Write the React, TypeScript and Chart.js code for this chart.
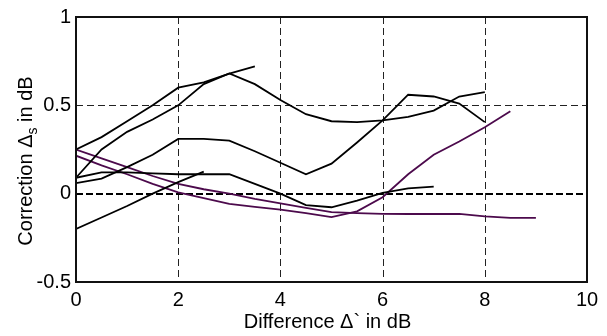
import React, { useEffect, useRef } from "react";
import { Chart, registerables } from "chart.js";

Chart.register(...registerables);

const xA = [0, 0.5, 1, 1.5, 2, 2.5, 3, 3.5];
const yA = [0.25, 0.32, 0.41, 0.5, 0.6, 0.63, 0.68, 0.72];

const xB = [0, 0.5, 1, 1.5, 2, 2.5, 3, 3.5, 4, 4.5, 5, 5.5, 6, 6.5, 7, 7.5, 8];
const yB = [0.09, 0.25, 0.35, 0.42, 0.5, 0.62, 0.68, 0.62, 0.53, 0.45, 0.41, 0.405, 0.415, 0.435, 0.47, 0.55, 0.575];

const xC = [0, 0.5, 1, 1.5, 2, 2.5, 3, 3.5, 4, 4.5, 5, 5.5, 6, 6.5, 7, 7.5, 8];
const yC = [0.06, 0.085, 0.15, 0.22, 0.31, 0.31, 0.3, 0.24, 0.175, 0.11, 0.17, 0.29, 0.415, 0.56, 0.55, 0.51, 0.405];

const xD = [0, 0.5, 1, 1.5, 2, 2.5, 3, 3.5, 4, 4.5, 5, 5.5, 6, 6.5, 7];
const yD = [0.09, 0.12, 0.12, 0.115, 0.11, 0.11, 0.11, 0.055, 0.0, -0.065, -0.077, -0.04, 0.005, 0.03, 0.04];

const xE = [0, 0.5, 1, 1.5, 2, 2.5];
const yE = [-0.2, -0.135, -0.07, 0.0, 0.065, 0.125];

const xP1 = [0, 0.5, 1, 1.5, 2, 2.5, 3, 3.5, 4, 4.5, 5, 5.5, 6, 6.5, 7, 7.5, 8, 8.5, 9];
const yP1 = [0.25, 0.2, 0.15, 0.1, 0.055, 0.025, 0.0, -0.03, -0.055, -0.08, -0.105, -0.11, -0.114, -0.115, -0.115, -0.114, -0.128, -0.137, -0.137];

const xP2 = [0, 0.5, 1, 1.5, 2, 2.5, 3, 3.5, 4, 4.5, 5, 5.5, 6, 6.5, 7, 7.5, 8, 8.5];
const yP2 = [0.215, 0.16, 0.11, 0.055, 0.007, -0.025, -0.058, -0.075, -0.09, -0.11, -0.133, -0.1, -0.02, 0.11, 0.22, 0.295, 0.376, 0.466];

const xTicks = [0, 2, 4, 6, 8, 10];
const yTicks = [-0.5, 0, 0.5, 1];
const xGrid = [2, 4, 6, 8];
const yGrid = [0.5];
const yZero = 0;

const xTitle = "Difference \u0394` in dB";
const yTitleMain = "Correction \u0394";
const yTitleSub = "s";
const yTitleEnd = " in dB";

const BLACK = "#000000";
const FRAME = "#111111";
const PURPLE = "#4c0a4c";
const FONT = "'Liberation Sans', Arial, sans-serif";

const pts = (xs: number[], ys: number[]) => xs.map((x, i) => ({ x, y: ys[i] }));

export default function App() {
  const ref = useRef<HTMLCanvasElement>(null);

  useEffect(() => {
    document.body.style.margin = "0";
    const canvas = ref.current;
    if (!canvas) return;

    const mk = (xs: number[], ys: number[], color: string) => ({
      data: pts(xs, ys),
      borderColor: color,
      backgroundColor: color,
      borderWidth: 1.8,
      pointRadius: 0,
      tension: 0,
      fill: false,
    });

    const gridPlugin = {
      id: "customGrid",
      beforeDatasetsDraw(chart: any) {
        const { ctx, chartArea, scales } = chart;
        const xs = scales.x;
        const ys = scales.y;
        ctx.save();
        ctx.strokeStyle = "#222222";
        ctx.lineWidth = 1;
        ctx.setLineDash([7, 4]);
        xGrid.forEach((v) => {
          const px = Math.round(xs.getPixelForValue(v)) + 0.5;
          ctx.beginPath();
          ctx.moveTo(px, chartArea.top);
          ctx.lineTo(px, chartArea.bottom);
          ctx.stroke();
        });
        yGrid.forEach((v) => {
          const py = Math.round(ys.getPixelForValue(v)) + 0.5;
          ctx.beginPath();
          ctx.moveTo(chartArea.left, py);
          ctx.lineTo(chartArea.right, py);
          ctx.stroke();
        });
        ctx.setLineDash([7, 3]);
        ctx.strokeStyle = BLACK;
        ctx.lineWidth = 2;
        const pz = Math.round(ys.getPixelForValue(yZero));
        ctx.beginPath();
        ctx.moveTo(chartArea.left, pz);
        ctx.lineTo(chartArea.right, pz);
        ctx.stroke();
        ctx.restore();
      },
      afterDraw(chart: any) {
        const { ctx, chartArea } = chart;
        ctx.save();
        ctx.fillStyle = FRAME;
        const l = Math.round(chartArea.left);
        const r = Math.round(chartArea.right);
        const t = Math.round(chartArea.top);
        const b = Math.round(chartArea.bottom);
        ctx.fillRect(l - 1, t - 1, r - l + 2, 2);
        ctx.fillRect(l - 1, b - 1, r - l + 2, 2);
        ctx.fillRect(l - 1, t - 1, 2, b - t + 2);
        ctx.fillRect(r - 1, t - 1, 2, b - t + 2);
        ctx.restore();

        ctx.save();
        ctx.fillStyle = BLACK;
        ctx.font = `20px ${FONT}`;
        ctx.textAlign = "center";
        ctx.textBaseline = "alphabetic";
        ctx.fillText(xTitle, (chartArea.left + chartArea.right) / 2 - 4, 328);

        ctx.textAlign = "left";
        const mainFont = `20px ${FONT}`;
        const subFont = `14px ${FONT}`;
        ctx.font = mainFont;
        const w1 = ctx.measureText(yTitleMain).width;
        const w3 = ctx.measureText(yTitleEnd).width;
        ctx.font = subFont;
        const w2 = ctx.measureText(yTitleSub).width;
        const total = w1 + w2 + w3;
        const cy = 161;
        ctx.translate(32, cy + total / 2);
        ctx.rotate(-Math.PI / 2);
        ctx.font = mainFont;
        ctx.fillText(yTitleMain, 0, 0);
        ctx.font = subFont;
        ctx.fillText(yTitleSub, w1, 5);
        ctx.font = mainFont;
        ctx.fillText(yTitleEnd, w1 + w2, 0);
        ctx.restore();
      },
    };

    const chart = new Chart(canvas, {
      type: "line",
      data: {
        datasets: [
          mk(xA, yA, BLACK),
          mk(xB, yB, BLACK),
          mk(xC, yC, BLACK),
          mk(xD, yD, BLACK),
          mk(xE, yE, BLACK),
          mk(xP1, yP1, PURPLE),
          mk(xP2, yP2, PURPLE),
        ],
      },
      options: {
        animation: false,
        responsive: false,
        maintainAspectRatio: false,
        layout: { padding: { left: 0, right: 20, top: 15, bottom: 0 } },
        plugins: { legend: { display: false }, tooltip: { enabled: false } },
        scales: {
          x: {
            type: "linear",
            min: 0,
            max: 10,
            grid: { display: false, drawTicks: false },
            border: { display: false },
            afterBuildTicks: (scale: any) => {
              scale.ticks = xTicks.map((v) => ({ value: v }));
            },
            afterFit: (scale: any) => {
              scale.height = 54;
            },
            ticks: {
              color: BLACK,
              padding: 6,
              font: { family: FONT, size: 20 },
              maxRotation: 0,
              callback: (v: any) => String(v),
            },
          },
          y: {
            type: "linear",
            min: -0.5,
            max: 1,
            grid: { display: false, drawTicks: false },
            border: { display: false },
            afterBuildTicks: (scale: any) => {
              scale.ticks = yTicks.map((v) => ({ value: v }));
            },
            afterFit: (scale: any) => {
              scale.width = 76;
            },
            ticks: {
              color: BLACK,
              padding: 5,
              font: { family: FONT, size: 20 },
              callback: (v: any) => String(v),
            },
          },
        },
      },
      plugins: [gridPlugin],
    });

    return () => chart.destroy();
  }, []);

  return (
    <div style={{ width: 607, height: 336 }}>
      <canvas ref={ref} width={607} height={336} style={{ display: "block" }} />
    </div>
  );
}
